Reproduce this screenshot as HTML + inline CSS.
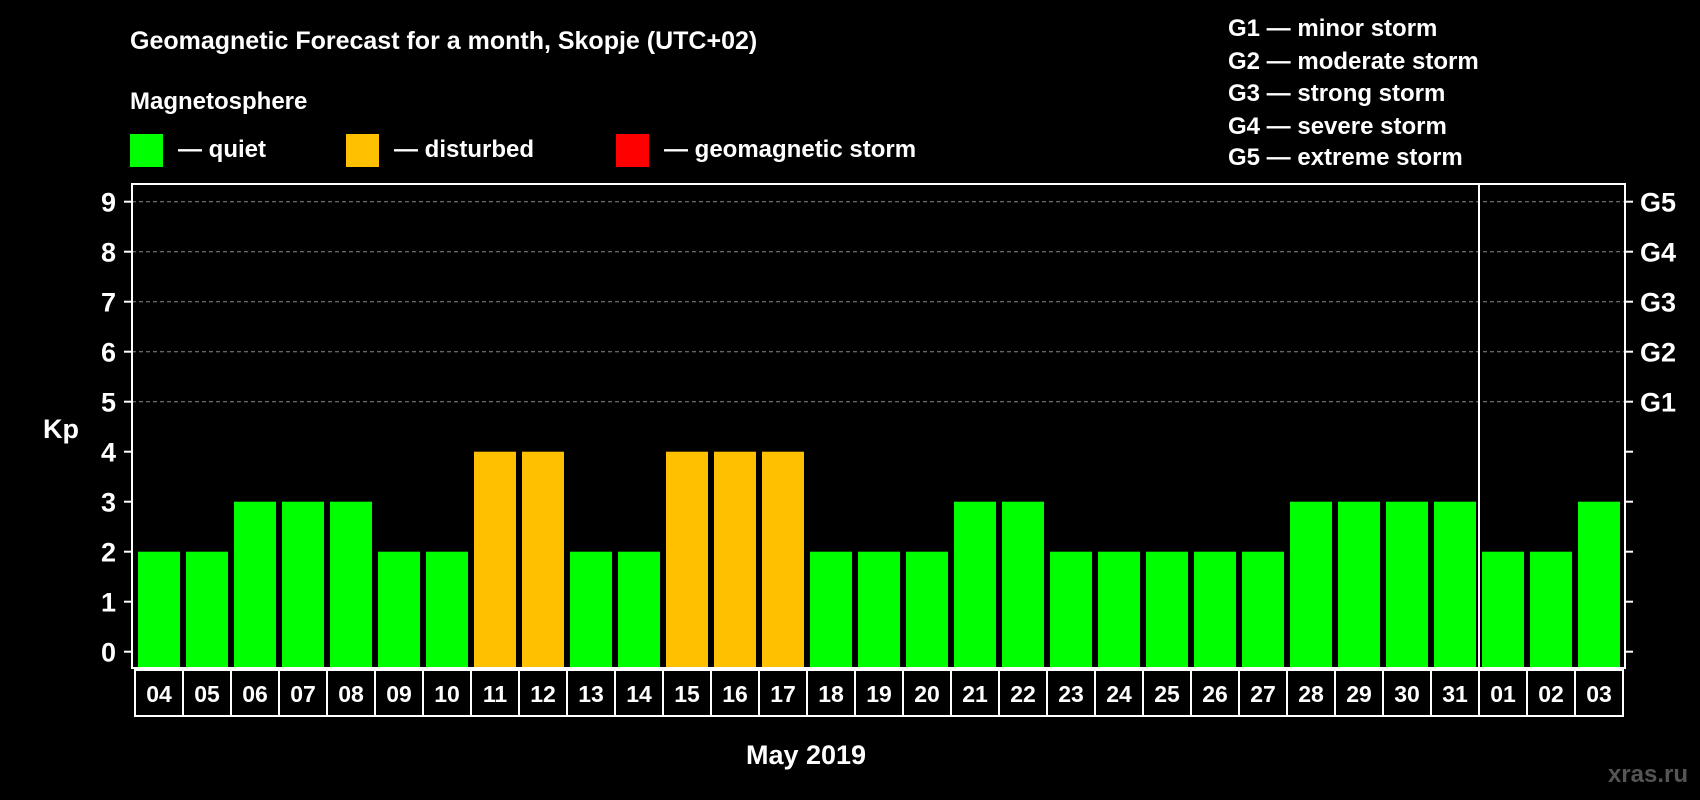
<!DOCTYPE html>
<html><head><meta charset="utf-8"><style>
html,body{margin:0;padding:0;background:#000;}
svg{display:block;font-family:"Liberation Sans",sans-serif;font-weight:bold;}
</style></head><body>
<svg id="chart" width="1700" height="800" viewBox="0 0 1700 800">
<rect width="1700" height="800" fill="#000"/>
<text x="130" y="49" fill="#fff" font-size="25">Geomagnetic Forecast for a month, Skopje (UTC+02)</text>
<text x="130" y="109" fill="#fff" font-size="24">Magnetosphere</text>
<g><rect x="130" y="134" width="33" height="33" fill="#00ff00"/><text x="178" y="157" fill="#fff" font-size="24">— quiet</text></g>
<g><rect x="346" y="134" width="33" height="33" fill="#ffc000"/><text x="394" y="157" fill="#fff" font-size="24">— disturbed</text></g>
<g><rect x="616" y="134" width="33" height="33" fill="#ff0000"/><text x="664" y="157" fill="#fff" font-size="24">— geomagnetic storm</text></g>
<g fill="#fff" font-size="24">
<text x="1228" y="36">G1 — minor storm</text>
<text x="1228" y="69">G2 — moderate storm</text>
<text x="1228" y="101">G3 — strong storm</text>
<text x="1228" y="134">G4 — severe storm</text>
<text x="1228" y="165">G5 — extreme storm</text>
</g>
<text x="43" y="438" fill="#fff" font-size="27">Kp</text>
<text x="806" y="764" fill="#fff" font-size="27" text-anchor="middle">May 2019</text>
<text x="1688" y="782" fill="#555" font-size="24" text-anchor="end">xras.ru</text>
<g id="grid"></g><g id="bars"></g><g id="axes"></g><g id="labels"></g>
</svg>
<script>
const days=["04","05","06","07","08","09","10","11","12","13","14","15","16","17","18","19","20","21","22","23","24","25","26","27","28","29","30","31","01","02","03"];
const kp=[2,2,3,3,3,2,2,4,4,2,2,4,4,4,2,2,2,3,3,2,2,2,2,2,3,3,3,3,2,2,3];
const yTicks=[0,1,2,3,4,5,6,7,8,9];
const gLabels=["G1","G2","G3","G4","G5"];
const gLevels=[5,6,7,8,9];
const NS="http://www.w3.org/2000/svg";
const L=132,R=1625,T=184,B=668;
const y=v=>651.7-v*50;
const x=i=>138+i*48;
const BW=42;
function mk(t,a,p){const e=document.createElementNS(NS,t);for(const k in a)e.setAttribute(k,a[k]);p.appendChild(e);return e;}
const grid=document.getElementById('grid'),bars=document.getElementById('bars'),axes=document.getElementById('axes'),labels=document.getElementById('labels');
gLevels.forEach(v=>{const l=mk('line',{x1:L,x2:R,y1:y(v),y2:y(v),stroke:'#888','stroke-dasharray':'4,3','stroke-width':1},grid);

});
kp.forEach((v,i)=>{const c=v>=5?'#ff0000':v>=4?'#ffc000':'#00ff00';
const r=mk('rect',{x:x(i),y:y(v),width:BW,height:B-y(v),fill:c},bars);

});
const fr=mk('rect',{x:L,y:T,width:R-L,height:B-T,fill:'none',stroke:'#fff','stroke-width':2},axes);


const sep=mk('line',{x1:x(28)-3,x2:x(28)-3,y1:T,y2:B,stroke:'#fff','stroke-width':2},axes);


yTicks.forEach(v=>{mk('line',{x1:L-8,x2:L,y1:y(v),y2:y(v),stroke:'#fff','stroke-width':2},axes);
mk('line',{x1:R,x2:R+8,y1:y(v),y2:y(v),stroke:'#fff','stroke-width':2},axes);
const t=mk('text',{x:L-16,y:y(v)+10,fill:'#fff','font-size':27,'text-anchor':'end'},axes);t.textContent=v;

});
gLabels.forEach((g,i)=>{const t=mk('text',{x:1640,y:y(gLevels[i])+10,fill:'#fff','font-size':27},axes);t.textContent=g;

});
days.forEach((d,i)=>{const cx=x(i)+BW/2;
const b=mk('rect',{x:cx-24,y:670,width:48,height:46,fill:'#000',stroke:'#fff','stroke-width':2},labels);


const t=mk('text',{x:cx,y:702,fill:'#fff','font-size':23,'text-anchor':'middle'},labels);t.textContent=d;

});
</script>
</body></html>
